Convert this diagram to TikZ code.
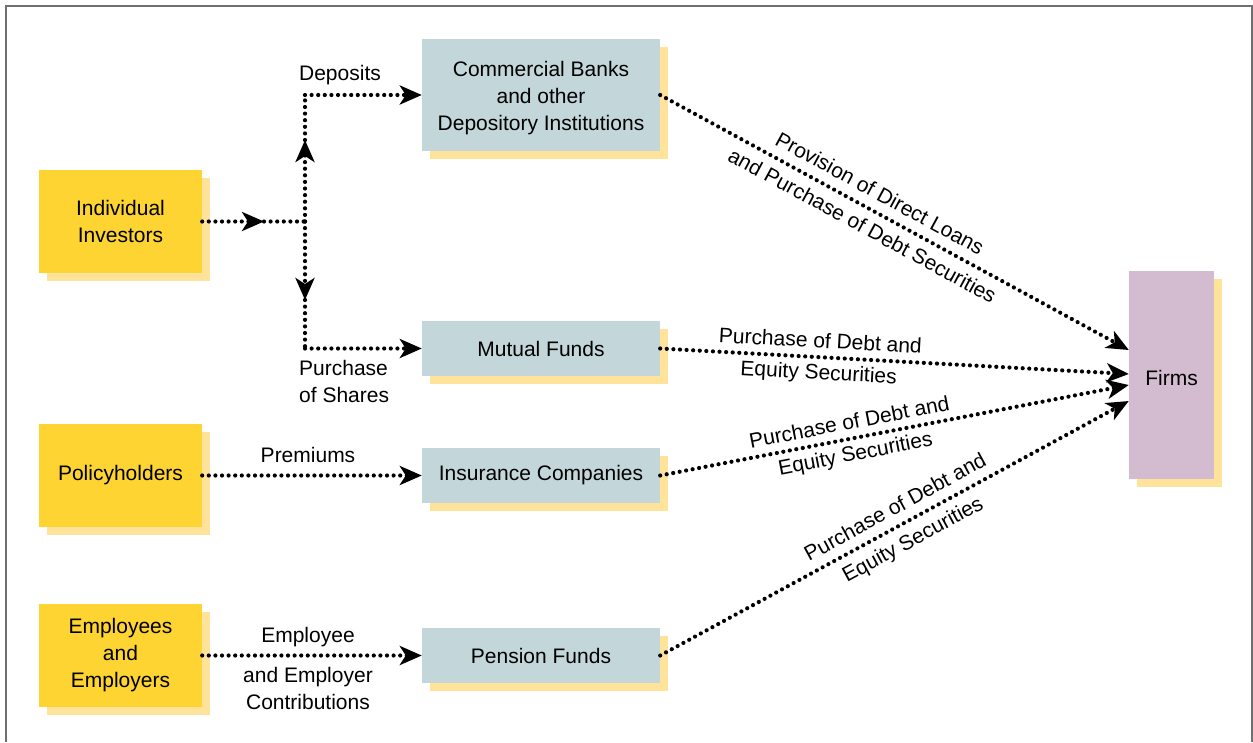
\documentclass[tikz,border=0pt]{standalone}
\usepackage{fontspec}
\setmainfont{Liberation Sans}
\usetikzlibrary{arrows.meta,shadows}
\definecolor{yel}{HTML}{FDD431}
\definecolor{shad}{HTML}{FFE39A}
\definecolor{blu}{HTML}{C3D7DA}
\definecolor{pur}{HTML}{D3BCCF}
\definecolor{frm}{HTML}{707070}
\begin{document}
\begin{tikzpicture}[x=1pt,y=1pt,
  txt/.style={font=\fontsize{21}{27}\selectfont, inner sep=1pt, align=center},
  sh/.style={drop shadow={fill=shad, opacity=1, shadow xshift=8pt, shadow yshift=-8pt}},
  yb/.style={txt, fill=yel, sh, minimum width=163pt, minimum height=103pt, inner sep=0pt},
  bb/.style={txt, fill=blu, sh, minimum width=238pt, minimum height=55pt, inner sep=0pt},
  pb/.style={txt, fill=pur, sh, minimum width=85pt, minimum height=208pt, inner sep=0pt},
  flow/.style={line width=4.2pt, line cap=round, dash pattern=on 0pt off 6.6pt},
  tip/.style={-{Stealth[length=22pt 0 0,width=19pt 0 0,inset=6pt 0]}}
]
\useasboundingbox (0,0) rectangle (1253,-742);
\draw[frm, line width=2pt] (6,-742) -- (6,-6) -- (1252,-6) -- (1252,-742);

\node[yb] (inv) at (120.5,-221.5) {Individual\\Investors};
\node[yb] (pol) at (120.5,-475.5) {Policyholders};
\node[yb] (emp) at (120.5,-655.5) {Employees\\and\\Employers};
\node[bb, minimum height=112pt] (cb) at (541,-95) {};
\node[txt] (cbt) at ([yshift=-3pt]cb.center) {Commercial Banks\\and other\\Depository Institutions};
\node[bb] (mf) at (541,-348.5) {Mutual Funds};
\node[bb] (ic) at (541,-475.5) {Insurance Companies};
\node[bb] (pf) at (541,-655.5) {Pension Funds};
\node[pb] (firms) at (1171.5,-375) {};
\node[txt] (firmst) at ([yshift=-3pt]firms.center) {Firms};

\coordinate (j) at (305,-221.5);
\coordinate (m1) at (264,-221.5);
\coordinate (up) at (305,-140);
\coordinate (dn) at (305,-300);
\coordinate (cd) at (305,-95);
\coordinate (cs) at (305,-348.5);
\coordinate (t1) at ([yshift=25pt]firms.west);
\coordinate (t2) at ([yshift=1pt]firms.west);
\coordinate (t3) at ([yshift=-10pt]firms.west);
\coordinate (t4) at ([yshift=-26pt]firms.west);

\draw[flow,tip] (inv.east) -- (m1);
\draw[flow] (m1) -- (j);
\draw[flow,tip] (j) -- (up);
\draw[flow] (up) -- (cd);
\draw[flow,tip] (cd) -- (cb.west);
\draw[flow,tip] (j) -- (dn);
\draw[flow] (dn) -- (cs);
\draw[flow,tip] (cs) -- (mf.west);
\draw[flow,tip] (pol.east) -- (ic.west);
\draw[flow,tip] (emp.east) -- (pf.west);

\node[txt] (ldep) at (340,-75) {Deposits};
\node[txt, align=left, anchor=west] (lsh) at (298,-381) {Purchase\\of Shares};
\node[txt] (lprem) at (308,-455) {Premiums};
\node[txt] (lemp1) at (308,-637) {Employee};
\node[txt] (lemp2) at (308,-688) {and Employer\\Contributions};

\draw[flow,tip] (cb.east) --
  node[txt,sloped,above=8pt,pos=0.45] (lcb1) {Provision of Direct Loans}
  node[txt,sloped,below=7pt,pos=0.45] (lcb2) {and Purchase of Debt Securities} (t1);
\draw[flow,tip] (mf.east) --
  node[txt,sloped,above=6pt,pos=0.34] (lmf1) {Purchase of Debt and}
  node[txt,sloped,below=4pt,pos=0.34] (lmf2) {Equity Securities} (t2);
\draw[flow,tip] (ic.east) --
  node[txt,sloped,above=6pt,pos=0.41] (lic1) {Purchase of Debt and}
  node[txt,sloped,below=4pt,pos=0.41] (lic2) {Equity Securities} (t3);
\draw[flow,tip] (pf.east) --
  node[txt,sloped,above=8pt,pos=0.52] (lpf1) {Purchase of Debt and}
  node[txt,sloped,below=7pt,pos=0.52] (lpf2) {Equity Securities} (t4);
\end{tikzpicture}
\end{document}
